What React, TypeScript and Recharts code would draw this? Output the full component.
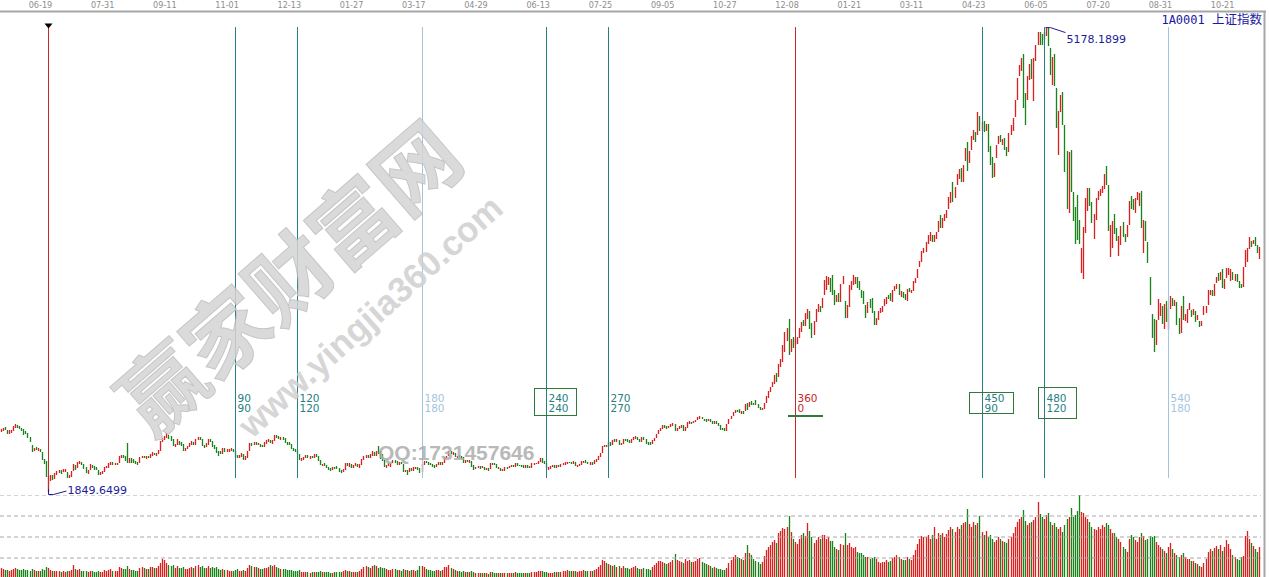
import React from 'react';
import { ComposedChart, Bar, XAxis, YAxis, ReferenceLine, ReferenceDot } from 'recharts';

// ---------------- data (SSE Composite 1A0001, daily, 2013-05-20 .. 2015-11-16) ----------------
const lows: number[] = [
  2282,2287,2293,2268,2266,2276,2287,2311,2307,2298,
  2285,2260,2262,2237,2205,2136,2141,2150,2147,2137,
  2076,2047,1959,1849.65,1930,1935,1945,1970,1985,1980,
  1990,1995,1950,1950,1960,2000,2005,2020,2050,2040,
  2018,1987,1980,2005,2025,2010,2005,1970,1975,1980,
  1995,2020,2025,2040,2040,2040,2045,2060,2090,2092,
  2075,2055,2060,2060,2060,2050,2045,2055,2090,2090,
  2088,2090,2090,2110,2115,2110,2120,2145,2205,2225,
  2235,2230,2215,2180,2175,2190,2190,2180,2145,2145,
  2155,2170,2190,2185,2190,2220,2225,2180,2165,2170,
  2190,2205,2175,2155,2130,2110,2120,2125,2138,2135,
  2135,2140,2135,2100,2095,2090,2100,2080,2080,2095,
  2140,2180,2185,2185,2185,2175,2170,2175,2195,2210,
  2200,2195,2215,2240,2230,2225,2225,2200,2190,2185,
  2155,2140,2135,2120,2080,2075,2080,2090,2090,2085,
  2090,2095,2100,2075,2040,2035,2035,2020,2005,2000,
  2005,2015,2015,1995,1985,1990,2010,2035,2030,2025,
  2025,2035,2030,2025,2045,2080,2095,2095,2095,2110,
  2108,2110,2122,2085,2070,2030,2025,2035,2030,2055,
  2060,2045,2045,2050,1995,1990,1974,1995,2000,2000,
  2018,2010,1985,1990,2045,2055,2045,2040,2030,2025,
  2030,2045,2040,2040,2060,2090,2105,2120,2115,2100,
  2095,2095,2085,2060,2060,2065,2060,2032,2010,2015,
  2020,2015,2020,2005,2005,2000,2015,2045,2040,2020,
  2015,2000,2000,2000,2015,2020,2030,2030,2030,2038,
  2035,2030,2020,2020,2025,2020,2025,2045,2048,2050,
  2065,2060,2050,2020,2010,2015,2030,2020,2020,2030,
  2030,2040,2045,2052,2055,2050,2050,2035,2030,2035,
  2045,2060,2060,2050,2045,2045,2050,2068,2078,2100,
  2130,2170,2175,2170,2180,2190,2210,2210,2190,2185,
  2195,2215,2210,2200,2200,2225,2232,2220,2205,2210,
  2225,2195,2190,2185,2195,2215,2235,2265,2285,2300,
  2305,2300,2305,2315,2325,2285,2285,2300,2310,2285,
  2285,2310,2335,2335,2345,2350,2365,2375,2370,2355,
  2350,2355,2350,2335,2340,2335,2320,2295,2295,2285,
  2290,2340,2370,2395,2415,2420,2415,2410,2410,2430,
  2440,2460,2475,2470,2470,2450,2440,2440,2445,2490,
  2525,2565,2600,2625,2640,2675,2745,2780,2850,2935,
  2834,2850,2880,2900,2910,2950,3000,3040,3040,3090,
  3020,2950,2975,3070,3140,3140,3170,3260,3300,3330,
  3285,3260,3190,3210,3210,3215,3340,3095,3100,3175,
  3300,3330,3340,3310,3300,3240,3200,3100,3130,3170,
  3130,3050,3050,3080,3130,3140,3180,3200,3230,3220,
  3215,3290,3305,3260,3250,3240,3225,3220,3280,3275,
  3290,3345,3380,3460,3495,3560,3570,3630,3650,3640,
  3640,3665,3710,3740,3745,3790,3810,3880,3920,3930,
  3960,4050,4090,4070,4070,4220,4150,4210,4300,4375,
  4360,4410,4440,4440,4430,4440,4290,4190,4100,4110,
  4240,4345,4360,4340,4300,4260,4290,4410,4440,4540,
  4660,4830,4870,4600,4480,4660,4800,4810,4650,4940,
  5050,5050,5050,5090,5120,5048,4842,4767,4762,4456,
  4264,4570,4480,4140,3875,3847,4000,3795,3630,3653,
  3628,3421,3373,3707,3867,3900,3780,3660,3800,3940,
  3970,3990,4020,4050,3720,3537,3600,3700,3650,3538,
  3620,3680,3640,3680,3760,3880,3870,3850,3940,3900,
  3740,3560,3650,3490,3191,2953,2850,2906,3085,3110,
  3053,3020,3065,3011,3160,3180,3186,3049,2983,2990,
  3079,3072,3064,3153,3105,3120,3069,3085,3033,3040,
  3120,3130,3190,3262,3255,3253,3348,3360,3370,3310,
  3303,3383,3403,3360,3368,3362,3352,3310,3310,3321,
  3465,3497,3590,3605,3630,3616,3565,3523,
];

const highs: number[] = [
  2301,2306,2312,2296,2291,2297,2323,2334,2329,2324,
  2311,2300,2285,2274,2247,2189,2166,2172,2168,2161,
  2139,2089,2069,1967,1970,1972,1985,2000,2010,2005,
  2012,2015,1995,1975,2002,2049,2045,2065,2072,2065,
  2048,2030,2008,2048,2045,2035,2030,2008,1995,2000,
  2032,2038,2055,2065,2065,2058,2060,2105,2112,2115,
  2105,2198,2090,2090,2085,2075,2068,2100,2110,2110,
  2108,2110,2125,2133,2130,2130,2148,2214,2240,2250,
  2270,2255,2250,2230,2195,2230,2215,2210,2195,2165,
  2180,2200,2215,2210,2230,2245,2245,2230,2190,2198,
  2233,2230,2215,2185,2170,2140,2140,2165,2162,2155,
  2155,2162,2158,2140,2115,2112,2130,2120,2105,2140,
  2200,2200,2210,2205,2200,2195,2190,2208,2223,2230,
  2220,2225,2260,2255,2250,2242,2245,2235,2210,2205,
  2195,2165,2160,2150,2125,2095,2100,2118,2115,2105,
  2108,2120,2120,2105,2080,2050,2055,2045,2030,2020,
  2030,2032,2035,2025,2005,2012,2055,2055,2058,2050,
  2042,2055,2050,2048,2088,2108,2115,2115,2120,2140,
  2135,2145,2177,2140,2120,2080,2045,2055,2060,2080,
  2080,2072,2065,2065,2050,2008,2005,2025,2020,2028,
  2032,2028,2020,2050,2070,2070,2065,2055,2050,2045,
  2050,2065,2062,2062,2100,2110,2146,2140,2135,2130,
  2110,2115,2105,2100,2078,2080,2080,2075,2040,2030,
  2038,2035,2035,2030,2020,2020,2055,2060,2055,2050,
  2030,2025,2012,2028,2030,2038,2045,2045,2055,2058,
  2045,2045,2040,2040,2040,2035,2055,2058,2060,2075,
  2090,2090,2070,2058,2030,2038,2045,2040,2040,2045,
  2050,2055,2062,2068,2068,2065,2070,2068,2045,2050,
  2070,2075,2078,2068,2062,2062,2078,2085,2110,2130,
  2180,2190,2190,2205,2205,2225,2230,2228,2225,2200,
  2230,2230,2228,2225,2230,2245,2248,2245,2230,2245,
  2245,2230,2210,2205,2220,2238,2268,2292,2310,2330,
  2330,2320,2325,2335,2345,2340,2310,2320,2332,2330,
  2318,2348,2355,2352,2362,2368,2385,2392,2390,2375,
  2370,2376,2375,2360,2360,2360,2345,2330,2310,2305,
  2340,2375,2395,2423,2435,2440,2445,2430,2430,2478,
  2490,2497,2500,2490,2510,2480,2460,2455,2490,2535,
  2570,2605,2635,2690,2700,2765,2800,2905,3000,3023,
  3091,2945,2960,2945,2960,3025,3065,3080,3130,3160,
  3145,3060,3075,3158,3200,3185,3240,3370,3395,3390,
  3380,3405,3300,3260,3275,3338,3400,3220,3190,3330,
  3360,3406,3390,3390,3360,3300,3290,3190,3210,3230,
  3240,3150,3100,3145,3165,3180,3230,3250,3260,3275,
  3300,3325,3340,3340,3290,3285,3270,3305,3310,3300,
  3365,3385,3450,3505,3580,3600,3640,3690,3715,3690,
  3690,3710,3795,3835,3817,3840,3870,3962,4000,4070,
  4035,4130,4168,4170,4195,4317,4356,4295,4400,4444,
  4430,4572,4545,4500,4510,4490,4490,4330,4250,4210,
  4335,4402,4410,4380,4390,4320,4420,4480,4530,4658,
  4814,4911,4958,4986,4710,4829,4915,4950,4960,5052,
  5147,5147,5130,5144,5178.19,5176,5030,4970,4990,4744,
  4580,4692,4720,4480,4297,4287,4300,4000,3890,3975,
  3800,3600,3748,3959,4030,4030,3930,3843,3960,4010,
  4020,4040,4132,4184,4050,3760,3792,3840,3740,3684,
  3758,3782,3700,3760,3935,3972,3950,3958,4000,3995,
  4007,3800,3790,3640,3388,3126,3092,3085,3233,3207,
  3180,3200,3218,3172,3256,3240,3226,3209,3100,3182,
  3254,3125,3162,3205,3154,3162,3149,3117,3075,3073,
  3180,3186,3298,3294,3294,3339,3393,3421,3426,3447,
  3373,3457,3457,3450,3425,3410,3414,3361,3340,3460,
  3585,3596,3674,3650,3656,3679,3623,3607,
];

// r = close above open (red), g = close below open (green)
const directions: string = [
  'rrggrrrrgg','ggggggrgrg','gggrrgrrrg','rrgrrrgrrg','ggrrggggrr','rrrrgrrrrg',
  'ggrggggrrg','rgrrgrrrrr','rgggrrgggr','rrrgrrgggr','rggggggrgr','rrgggrrgrr',
  'rgrgrggrrr','grrggrgggg','gggggrrrgr','grgggrgggg','rggggrrgrg','rrgrrrrgrr',
  'grggggrrrr','ggrggrgrgr','rggrrggggg','rrgrrrrgrg','rgggrgrggr','rgrgrgrggg',
  'rgrrgrrgrg','gggrggrrrr','rgggrrrgrg','rrrrggrgrr','rrggrgrrrr','rrgrgrgrgr',
  'rgggrrrggr','ggggrrrrrr','ggrrrgrrrg','rrrgrrrrgg','grggrggggg','rrrrrggrgr',
  'grgggggrrr','rrrrgrrrrr','grgrrrrgrr','ggrrrgrrrr','gggrgrrgrr','rrrgggggrg',
  'ggrrrrrrgg','rrrgrggrgr','rrrrrrrrrg','rrrgrrrrrg','rrrgrrgrrr','grgrgrgggr',
  'rrgrggrrrr','rrrggrrgrr','rggrrggrgg','rrgggrgggg','grrrrggrrr','rrrggrrggr',
  'rggrrggrrr','grgggggrrr','grgrrgrggr','grrrgrgrgr','rrrrgrrgrg','rrrrgrgggr',
  'rrrgrggr',
].join('');

const volumes: number[] = [
  9,8,7,7,6,7,8,9,8,7,7,8,7,7,6,8,7,6,6,6,
  8,7,10,9,7,6,6,6,6,5,6,5,6,6,7,12,8,7,8,6,
  6,6,5,6,6,5,5,6,5,5,7,6,7,8,6,6,6,10,9,8,
  8,11,8,7,7,6,6,9,10,9,8,8,10,10,9,9,11,14,18,17,
  14,12,11,12,9,11,9,9,10,8,8,9,10,9,11,12,10,11,9,9,
  11,9,10,9,10,8,7,8,7,7,6,6,6,7,8,6,6,7,6,9,
  12,11,10,10,9,8,8,9,9,10,12,11,12,10,9,8,8,8,7,7,
  7,6,6,6,7,5,5,5,5,4,5,5,5,5,6,5,5,5,5,4,
  4,5,5,5,5,6,7,6,6,5,5,5,5,6,8,10,11,10,9,11,
  12,11,9,10,9,9,8,7,7,8,8,7,7,6,8,7,7,6,7,7,
  6,7,11,11,10,8,7,7,6,6,7,7,6,7,10,10,12,9,8,7,
  6,6,5,6,5,5,5,6,5,4,4,4,4,4,4,3,5,5,4,4,
  4,4,4,4,4,4,4,4,5,4,4,4,4,4,4,4,5,5,5,6,
  6,6,5,5,4,4,4,5,5,5,5,6,6,7,6,6,6,6,5,6,
  6,7,6,6,6,6,7,8,10,12,17,16,14,13,12,11,12,10,11,9,
  11,9,9,8,9,10,11,9,8,8,9,8,8,7,10,12,14,16,16,15,
  14,13,14,15,17,23,17,16,15,14,18,16,17,15,15,16,18,19,15,14,
  13,12,11,9,10,9,8,8,7,7,9,14,17,20,22,20,19,18,17,24,
  32,24,22,18,16,15,13,15,21,27,30,32,35,37,34,44,46,49,48,50,
  61,45,38,35,33,38,42,44,41,54,46,40,34,37,40,38,42,42,38,40,
  36,36,30,28,27,33,32,44,32,34,30,29,30,25,24,24,22,20,20,18,
  19,20,18,15,14,15,15,17,15,16,19,20,22,20,18,17,17,20,18,17,
  22,27,33,38,41,40,40,42,38,42,50,38,44,42,44,40,43,47,50,48,
  45,50,48,52,54,55,68,53,50,55,52,54,61,45,42,46,40,42,38,35,
  37,40,38,36,35,34,38,40,44,50,55,58,60,67,56,52,54,55,57,60,
  75,63,60,58,62,64,55,52,54,50,48,50,45,52,58,60,69,60,62,66,
  82,65,64,60,58,55,50,48,47,50,48,52,50,54,52,48,44,44,40,38,
  35,30,28,25,38,42,40,37,35,40,44,41,37,38,41,40,41,35,32,30,
  28,26,24,30,34,28,24,22,20,22,24,20,18,18,16,16,14,13,11,10,
  14,18,25,28,26,29,31,28,32,26,30,37,33,28,22,20,18,17,20,21,
  41,46,38,34,31,28,25,30,
];

const tickIndex: number[] = [19,49,79,109,139,169,199,229,259,289,319,349,379,409,439,469,499,529,559,589];
const tickLabels: string[] = ['06-19','07-31','09-11','11-01','12-13','01-27','03-17','04-29','06-13','07-25',
  '09-05','10-27','12-08','01-21','03-11','04-23','06-05','07-20','08-31','10-21'];

const cycleIndex: number[] = [23,113,143,203,263,293,383,473,503,563];
const cycleTop: string[] = ['', '90','120','180','240','270','360','450','480','540'];
const cycleBottom: string[] = ['', '90','120','180','240','270','0','90','120','180'];

const lowIndex = 23; const lowValue = 1849.65; const lowText = '1849.6499';
const highIndex = 504; const highValue = 5178.19; const highText = '5178.1899';

// ---------------- styles ----------------
const RED = '#de1f1f';
const GREEN = '#17851a';
const TEAL = '#268080';
const LIGHT = '#a3c4de';
const VRED = '#c82828';
const BOX = '#2f7a3a';
const NAVY = '#1c1c96';
const W = 1261;
const PMIN = 1849.65;
const PMAX = 5290;
const LINE_TOP = 5182;   // value at the top end of the cycle lines
const LINE_BOT = 1950;   // value at the lower end of the cycle lines
const VMAX = 82;

const rows = lows.map((lo, i) => ({
  i,
  range: [lo, highs[i]],
  up: directions[i] === 'r',
  vol: volumes[i] ?? 0,
}));

const Candle = (p: any) => {
  const { x, y, width, height, payload } = p;
  if (x == null || y == null) return null;
  const cx = Math.floor(x + width / 2);
  const a = Math.min(y, y + height);
  const b = Math.max(y, y + height);
  const top = Math.round(a);
  const h = Math.max(1, Math.round(b) - top);
  const c = payload.up ? RED : GREEN;
  return (
    <g>
      <rect x={cx - 1} y={top} width={3} height={h} fill={c} fillOpacity={0.16} />
      <rect x={cx} y={top} width={1} height={h} fill={c} />
    </g>
  );
};

const TopTick = (p: any) => {
  const idx = tickIndex.indexOf(Number(p.payload.value));
  return (
    <text x={p.x} y={8} textAnchor="middle" fontSize={9}
      fontFamily="'Liberation Sans Narrow','DejaVu Sans Condensed',sans-serif" fill="#8e8e8e">
      {idx >= 0 ? tickLabels[idx] : ''}
    </text>
  );
};

const boxStyle: Record<number, { l: number; r: number; t: number; b: number }> = {
  4: { l: -12, r: 30, t: 388.5, b: 415.5 },
  7: { l: -13, r: 31, t: 392.5, b: 413.5 },
  8: { l: -6, r: 32, t: 387.5, b: 418.5 },
};

const colorFor = (n: number) => (n === 0 || n === 6 ? VRED : n === 3 || n === 9 ? LIGHT : TEAL);

const makeCycleShape = (n: number) => (p: any) => {
  const x = Math.floor(p.x1) + 0.5;
  const y1 = Math.min(p.y1, p.y2);
  const y2 = Math.max(p.y1, p.y2);
  const c = colorFor(n);
  const box = boxStyle[n];
  return (
    <g>
      <line x1={x} x2={x} y1={y1} y2={y2} stroke={c} strokeWidth={1} />
      {n === 0 && <polygon points={`${x - 4},${y1 - 4} ${x + 4},${y1 - 4} ${x},${y1 + 1}`} fill="#000" />}
      {cycleTop[n] && (
        <text x={x + 2} y={401.5} fontSize={10.5} fontFamily="'DejaVu Sans',sans-serif" fill={c}>{cycleTop[n]}</text>
      )}
      {cycleBottom[n] && (
        <text x={x + 2} y={411.5} fontSize={10.5} fontFamily="'DejaVu Sans',sans-serif" fill={c}>{cycleBottom[n]}</text>
      )}
      {box && (
        <rect x={Math.floor(x + box.l) + 0.5} y={box.t} width={box.r - box.l} height={box.b - box.t}
          fill="none" stroke={BOX} strokeWidth={1} />
      )}
      {n === 6 && <line x1={x - 7.5} x2={x + 27.5} y1={416} y2={416} stroke={BOX} strokeWidth={2} />}
    </g>
  );
};

const LowMark = (p: any) => {
  const { cx, cy } = p;
  if (cx == null) return null;
  const x = Math.floor(cx) + 0.5;
  return (
    <g>
      <polyline points={`${x},${cy - 3} ${x},${cy + 2.5} ${x + 5},${cy + 2.5} ${x + 18},${cy - 1}`}
        fill="none" stroke={NAVY} strokeWidth={1} />
      <text x={x + 19} y={cy + 1.5} fontSize={11} fontFamily="'DejaVu Sans',sans-serif" fill={NAVY}>{lowText}</text>
    </g>
  );
};

const HighMark = (p: any) => {
  const { cx, cy } = p;
  if (cx == null) return null;
  const x = Math.floor(cx) + 0.5;
  return (
    <g>
      <polyline points={`${x - 1},${cy} ${x + 4},${cy} ${x + 19},${cy + 5}`} fill="none" stroke={NAVY} strokeWidth={1} />
      <text x={x + 20} y={cy + 15.5} fontSize={11} fontFamily="'DejaVu Sans',sans-serif" fill={NAVY}>{highText}</text>
    </g>
  );
};

export default function App() {
  return (
    <div style={{ position: 'absolute', left: 0, top: 0, width: 1269, height: 577, background: '#fff', overflow: 'hidden' }}>
      <div style={{ position: 'absolute', left: 0, top: 495 }}>
        <ComposedChart width={W} height={82} data={rows} margin={{ top: 0, right: 0, bottom: 0, left: 0 }} barCategoryGap={0}>
          <XAxis dataKey="i" type="category" hide />
          <YAxis hide type="number" domain={[0, VMAX]} allowDataOverflow />
          {[82, 61, 40, 19].map((v) => (
            <ReferenceLine key={v} y={v} stroke="#a8a8a8" strokeDasharray="4 3" ifOverflow="visible" />
          ))}
          <Bar dataKey="vol" isAnimationActive={false} shape={<Candle />} />
        </ComposedChart>
      </div>
      <div style={{ position: 'absolute', left: 0, top: 0 }}>
        <ComposedChart width={W} height={500} data={rows} margin={{ top: 0, right: 0, bottom: 8, left: 0 }} barCategoryGap={0}>
          <XAxis dataKey="i" type="category" orientation="top" height={12} ticks={tickIndex} interval={0}
            tick={<TopTick />} tickLine={false} axisLine={false} />
          <YAxis hide type="number" domain={[PMIN, PMAX]} allowDataOverflow />
          <Bar dataKey="range" isAnimationActive={false} shape={<Candle />} />
          {cycleIndex.map((k, n) => (
            <ReferenceLine key={k} segment={[{ x: k, y: n === 0 ? highValue : LINE_TOP }, { x: k, y: n === 0 ? PMIN : LINE_BOT }]}
              ifOverflow="visible" shape={makeCycleShape(n)} />
          ))}
          <ReferenceDot x={lowIndex} y={lowValue} r={0} ifOverflow="visible" shape={<LowMark />} />
          <ReferenceDot x={highIndex} y={highValue} r={0} ifOverflow="visible" shape={<HighMark />} />
        </ComposedChart>
      </div>
      <svg width={1269} height={577} style={{ position: 'absolute', left: 0, top: 0, pointerEvents: 'none' }}>
        <line x1={0} x2={1266} y1={11.5} y2={11.5} stroke="#a6a6a6" strokeWidth={2} />
        <line x1={1264.5} x2={1264.5} y1={11} y2={577} stroke="#a6a6a6" strokeWidth={2} />
        <text x={1262} y={24} textAnchor="end" fill="#1a1aa0">
          <tspan fontFamily="'DejaVu Sans Mono',monospace" fontSize={12}>1A0001 </tspan>
          <tspan fontFamily="'Noto Sans CJK SC',sans-serif" fontSize={12.5}>上证指数</tspan>
        </text>
        <g opacity={0.85}>
          <text x={286} y={274} transform="rotate(-41 286 274)" textAnchor="middle" dominantBaseline="central"
            fontFamily="'Noto Sans CJK SC',sans-serif" fontWeight={700} fontSize={84} fill="#d4d4d4" stroke="#bdbdbd" strokeWidth={1}>
            赢家财富网
          </text>
          <text x={370} y={316} transform="rotate(-42 370 316)" textAnchor="middle" dominantBaseline="central"
            fontFamily="'Liberation Sans',Arial,sans-serif" fontWeight={700} fontSize={35} fill="#d0d0d0">
            www.yingjia360.com
          </text>
          <text x={378} y={460} fontFamily="'Liberation Sans',Arial,sans-serif" fontWeight={700} fontSize={21} fill="#adadad">
            QQ:1731457646
          </text>
        </g>
      </svg>
    </div>
  );
}
